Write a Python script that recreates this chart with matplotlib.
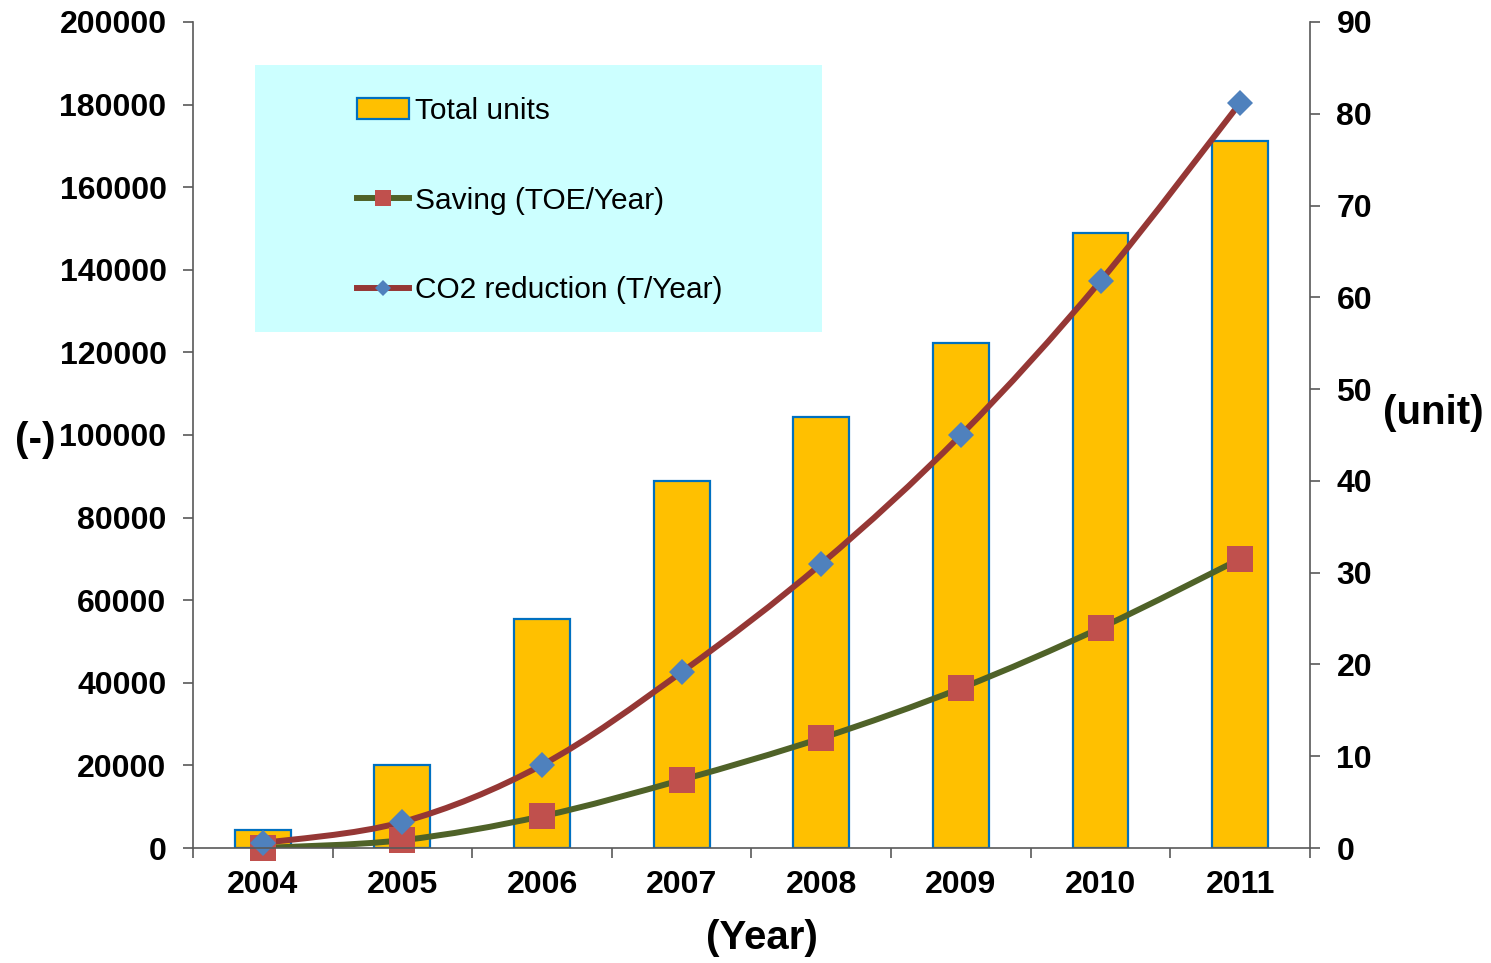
import matplotlib
matplotlib.use('Agg')
import matplotlib.pyplot as plt
import numpy as np
from matplotlib.path import Path
from matplotlib.patches import PathPatch, Rectangle
from matplotlib.lines import Line2D

plt.rcParams['font.family'] = ['Liberation Sans', 'DejaVu Sans']

years = ['2004', '2005', '2006', '2007', '2008', '2009', '2010', '2011']
total_units = [2, 9, 25, 40, 47, 55, 67, 77]
saving = [0, 1900, 7700, 16500, 26600, 38700, 53300, 70000]
co2 = [1200, 6300, 20100, 42600, 68800, 100000, 137300, 180400]

BAR = '#FFC000'
BAR_EDGE = '#0070C0'
CO2_LINE = '#953735'
CO2_MARK = '#4F81BD'
SAV_LINE = '#4F6228'
SAV_MARK = '#C0504D'
AXIS = '#595959'


def smooth_path(x, y):
    # Catmull-Rom style bezier through the points (like a spreadsheet smoothed line)
    pts = np.column_stack([x, y]).astype(float)
    n = len(pts)
    verts = [pts[0]]
    codes = [Path.MOVETO]
    for i in range(n - 1):
        p0 = pts[i - 1] if i > 0 else pts[i]
        p1 = pts[i]
        p2 = pts[i + 1]
        p3 = pts[i + 2] if i + 2 < n else pts[i + 1]
        c1 = p1 + (p2 - p0) / 6.0
        c2 = p2 - (p3 - p1) / 6.0
        verts += [c1, c2, p2]
        codes += [Path.CURVE4] * 3
    return Path(verts, codes)


fig = plt.figure(figsize=(14.91, 9.63), dpi=100)
ax = fig.add_axes([0.1294, 0.1194, 0.8786 - 0.1294, 0.9772 - 0.1194])
ax2 = ax.twinx()
ax.set_zorder(ax2.get_zorder() + 1)
ax.patch.set_visible(False)

x = np.arange(len(years))

# bars on the right (unit) axis
ax2.bar(x, total_units, width=0.4, color=BAR, edgecolor=BAR_EDGE, linewidth=1.6)
ax2.set_ylim(0, 90)
ax2.set_yticks(np.arange(0, 91, 10))

# smoothed lines on the left axis
ax.add_patch(PathPatch(smooth_path(x, saving), facecolor='none',
                       edgecolor=SAV_LINE, linewidth=4.3, capstyle='round'))
ax.add_patch(PathPatch(smooth_path(x, co2), facecolor='none',
                       edgecolor=CO2_LINE, linewidth=4.3, capstyle='round'))
ax.plot(x, saving, linestyle='none', marker='s', markersize=19,
        color=SAV_MARK, markeredgewidth=0, clip_on=False)
ax.plot(x, co2, linestyle='none', marker='D', markersize=13.5,
        color=CO2_MARK, markeredgewidth=0, clip_on=False)

ax.set_xlim(-0.5, len(years) - 0.5)
ax.set_ylim(0, 200000)
ax.set_yticks(np.arange(0, 200001, 20000))
ax.set_xticks(x)
ax.set_xticklabels(years)
ax.set_xticks(np.arange(-0.5, len(years), 1), minor=True)

for a in (ax, ax2):
    for s in a.spines.values():
        s.set_color(AXIS)
        s.set_linewidth(1.2)
    a.spines['top'].set_visible(False)
ax.spines['right'].set_visible(False)
ax2.spines['left'].set_visible(False)
ax2.spines['bottom'].set_visible(False)

ax.tick_params(axis='y', direction='out', length=7, width=1.2, color=AXIS,
               pad=12, labelsize=23)
ax2.tick_params(axis='y', direction='out', length=7, width=1.2, color=AXIS,
                pad=12, labelsize=23)
ax.tick_params(axis='x', which='major', length=0, pad=16, labelsize=23)
ax.tick_params(axis='x', which='minor', direction='out', length=7,
               width=1.2, color=AXIS)
for lbl in ax.get_xticklabels() + ax.get_yticklabels() + ax2.get_yticklabels():
    lbl.set_fontweight('bold')

# legend panel
ax.add_patch(Rectangle((0.0555, 0.625), 0.5075, 0.323, transform=ax.transAxes,
                       facecolor='#CCFFFF', edgecolor='none', zorder=0))
handles = [
    Rectangle((0, 0), 1, 1, facecolor=BAR, edgecolor=BAR_EDGE, linewidth=1.6),
    Line2D([], [], color=SAV_LINE, linewidth=4.3, marker='s', markersize=11.5,
           markerfacecolor=SAV_MARK, markeredgewidth=0),
    Line2D([], [], color=CO2_LINE, linewidth=4.3, marker='D', markersize=8,
           markerfacecolor=CO2_MARK, markeredgewidth=0),
]
labels = ['Total units', 'Saving (TOE/Year)', 'CO2 reduction (T/Year)']
ax.legend(handles, labels, loc='upper left', bbox_to_anchor=(0.147, 0.909),
          frameon=False, fontsize=21.5, handlelength=1.74, handletextpad=0.2,
          labelspacing=2.06, borderpad=0, borderaxespad=0)

fig.text(35 / 1491, 1 - 440 / 963, '(-)', fontsize=29, fontweight='bold',
         ha='center', va='center')
fig.text(1433 / 1491, 1 - 413 / 963, '(unit)', fontsize=29, fontweight='bold',
         ha='center', va='center')
fig.text(762 / 1491, 1 - 938 / 963, '(Year)', fontsize=29, fontweight='bold',
         ha='center', va='center')

fig.savefig('out.png', dpi=100)
